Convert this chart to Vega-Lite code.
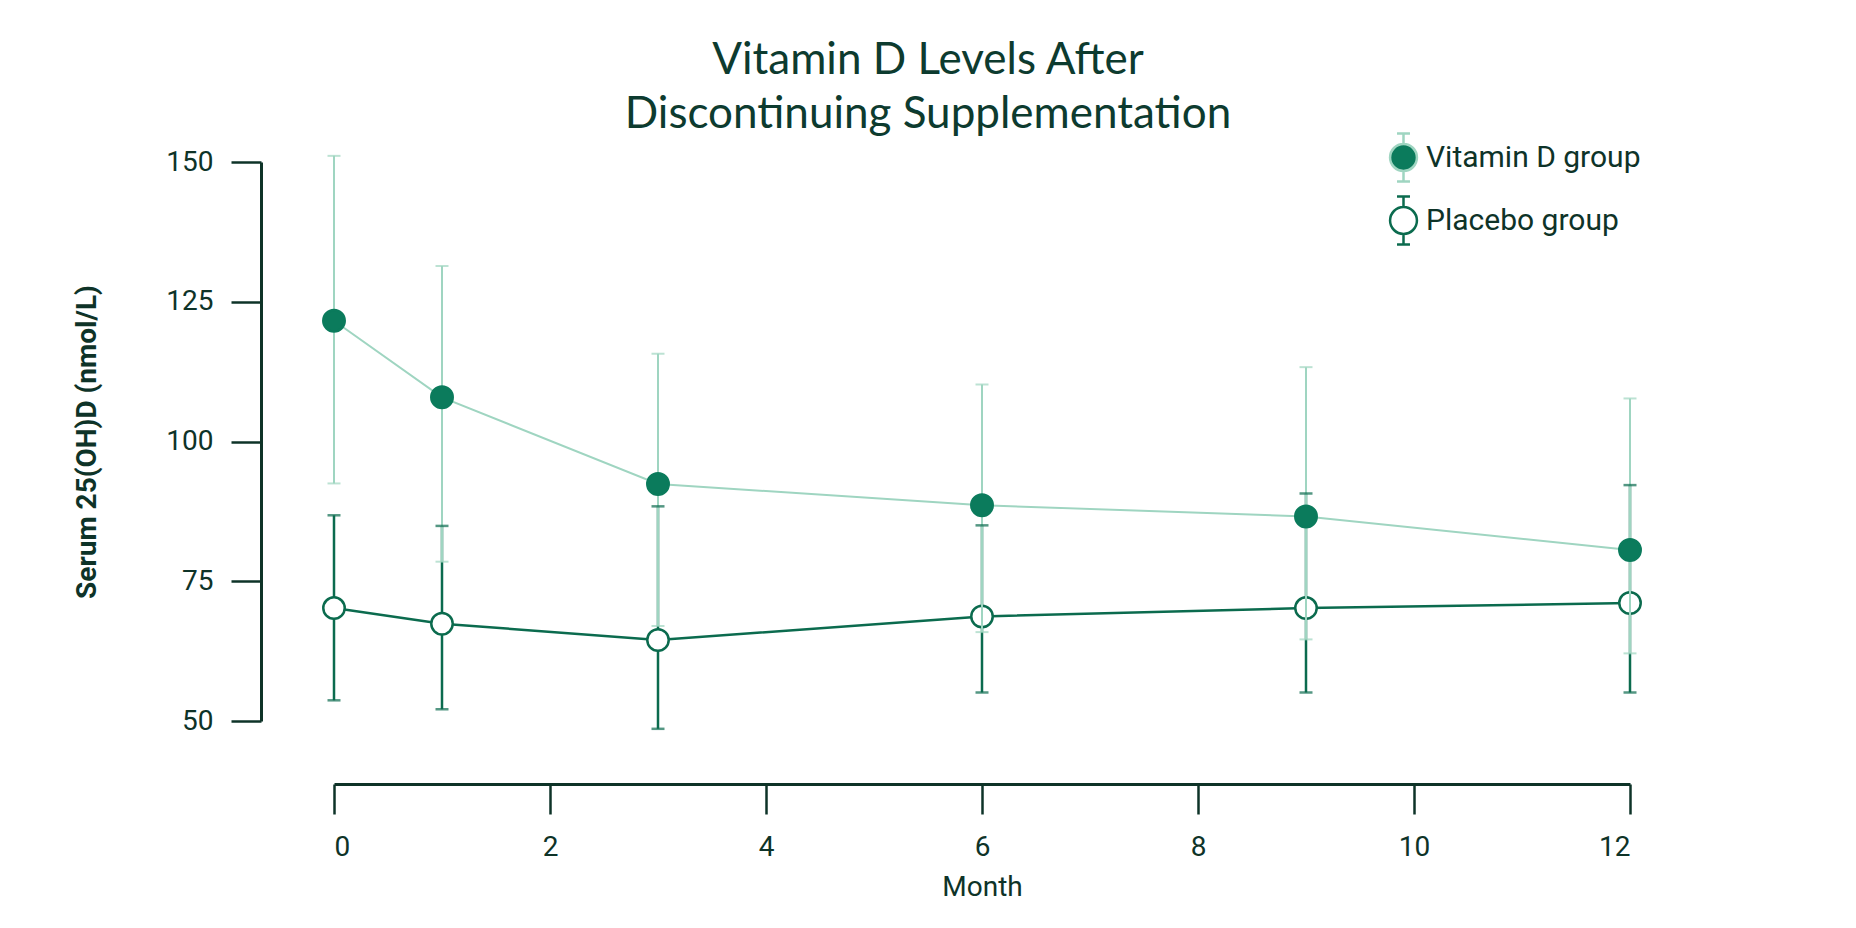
{
  "$schema": "https://vega.github.io/schema/vega-lite/v6.json",
  "autosize": {"type": "none"},
  "padding": {"left": 334, "top": 162, "right": 226, "bottom": 207},
  "width": 1296,
  "height": 559,
  "background": "white",
  "title": {
    "text": ["Vitamin D Levels After", "Discontinuing Supplementation"],
    "font": "Lato",
    "fontSize": 44,
    "fontWeight": 400,
    "color": "#0d3b2f",
    "anchor": "middle",
    "frame": "group",
    "dx": -54,
    "lineHeight": 54,
    "offset": -5
  },
  "config": {
    "view": {"stroke": null},
    "axis": {
      "grid": false,
      "domainColor": "#0e3328",
      "domainWidth": 3,
      "tickColor": "#0e3328",
      "tickWidth": 2.5,
      "tickSize": 30,
      "labelFont": "Roboto",
      "labelFontSize": 28,
      "labelColor": "#0e3328",
      "titleFont": "Roboto",
      "titleFontSize": 28,
      "titleColor": "#0e3328"
    }
  },
  "data": {
    "values": [
      {"month": 0, "group": "Vitamin D group", "mean": 121.6, "lo": 92.5, "hi": 151.1},
      {"month": 1, "group": "Vitamin D group", "mean": 107.9, "lo": 78.5, "hi": 131.4},
      {"month": 3, "group": "Vitamin D group", "mean": 92.4, "lo": 67.0, "hi": 115.7},
      {"month": 6, "group": "Vitamin D group", "mean": 88.6, "lo": 65.9, "hi": 110.2},
      {"month": 9, "group": "Vitamin D group", "mean": 86.6, "lo": 64.6, "hi": 113.3},
      {"month": 12, "group": "Vitamin D group", "mean": 80.6, "lo": 62.1, "hi": 107.7},
      {"month": 0, "group": "Placebo group", "mean": 70.2, "lo": 53.7, "hi": 86.8},
      {"month": 1, "group": "Placebo group", "mean": 67.4, "lo": 52.1, "hi": 84.9},
      {"month": 3, "group": "Placebo group", "mean": 64.5, "lo": 48.6, "hi": 88.4},
      {"month": 6, "group": "Placebo group", "mean": 68.7, "lo": 55.1, "hi": 85.0},
      {"month": 9, "group": "Placebo group", "mean": 70.2, "lo": 55.1, "hi": 90.7},
      {"month": 12, "group": "Placebo group", "mean": 71.1, "lo": 55.1, "hi": 92.2}
    ]
  },
  "encoding": {
    "x": {
      "field": "month", "type": "quantitative",
      "scale": {"domain": [0, 12], "nice": false, "zero": false},
      "axis": {"values": [0, 2, 4, 6, 8, 10, 12], "title": "Month", "titleFontWeight": "normal", "offset": 63, "labelPadding": 19, "titlePadding": 12}
    }
  },
  "layer": [
    {
      "transform": [{"filter": "datum.group === 'Placebo group'"}],
      "mark": {"type": "rule", "strokeWidth": 2.5},
      "encoding": {
        "y": {"field": "lo", "type": "quantitative",
          "scale": {"domain": [50, 150], "nice": false, "zero": false},
          "axis": {"values": [50, 75, 100, 125, 150], "title": "Serum 25(OH)D (nmol/L)", "titleFontWeight": "bold", "offset": 73, "labelPadding": 18, "titlePadding": 64}},
        "y2": {"field": "hi"},
        "stroke": {"field": "group", "type": "nominal",
          "scale": {"domain": ["Vitamin D group", "Placebo group"], "range": ["#9fd5c1", "#0b6b4e"]},
          "legend": {
            "orient": "none", "legendX": 1044, "legendY": -30, "title": null, "padding": 0,
            "symbolSize": 2304,
            "symbolType": "M-0.56,0A0.56,0.56,0,1,1,0.56,0A0.56,0.56,0,1,1,-0.56,0ZM0,-0.56L0,-1M-0.27,-1L0.27,-1M0,0.56L0,1M-0.27,1L0.27,1",
            "symbolStrokeWidth": 2.5,
            "labelFont": "Roboto", "labelFontSize": 30, "labelColor": "#0e3328", "labelLimit": 0,
            "labelOffset": -3, "rowPadding": 4
          }
        }
      }
    },
    {
      "transform": [{"filter": "datum.group === 'Placebo group'"}],
      "mark": {"type": "line", "color": "#0b6b4e", "strokeWidth": 2.5},
      "encoding": {"y": {"field": "mean", "type": "quantitative"}}
    },
    {
      "transform": [{"filter": "datum.group === 'Placebo group'"}],
      "mark": {"type": "point", "shape": "circle", "size": 460, "strokeWidth": 2.5, "stroke": "#0b6b4e", "opacity": 1, "filled": true},
      "encoding": {
        "y": {"field": "mean", "type": "quantitative"},
        "fill": {"field": "group", "type": "nominal",
          "scale": {"domain": ["Vitamin D group", "Placebo group"], "range": ["#0b7b5c", "#ffffff"]},
          "legend": {
            "orient": "none", "legendX": 1044, "legendY": -30, "title": null, "padding": 0,
            "symbolSize": 2304,
            "symbolType": "M-0.56,0A0.56,0.56,0,1,1,0.56,0A0.56,0.56,0,1,1,-0.56,0ZM0,-0.56L0,-1M-0.27,-1L0.27,-1M0,0.56L0,1M-0.27,1L0.27,1",
            "symbolStrokeWidth": 2.5,
            "labelFont": "Roboto", "labelFontSize": 30, "labelColor": "#0e3328", "labelLimit": 0,
            "labelOffset": -3, "rowPadding": 4
          }
        }
      }
    },
    {
      "transform": [{"filter": "datum.group === 'Vitamin D group'"}],
      "mark": {"type": "rule", "strokeWidth": 2},
      "encoding": {
        "y": {"field": "lo", "type": "quantitative"},
        "y2": {"field": "hi"},
        "stroke": {"field": "group", "type": "nominal"}
      }
    },
    {
      "transform": [{"filter": "datum.group === 'Vitamin D group'"}],
      "mark": {"type": "line", "color": "#9fd5c1", "strokeWidth": 2},
      "encoding": {"y": {"field": "mean", "type": "quantitative"}}
    },
    {
      "transform": [{"filter": "datum.group === 'Vitamin D group'"}],
      "mark": {"type": "point", "shape": "circle", "size": 460, "strokeWidth": 2.5, "stroke": "#0b7b5c", "opacity": 1, "filled": true},
      "encoding": {
        "y": {"field": "mean", "type": "quantitative"},
        "fill": {"field": "group", "type": "nominal"}
      }
    },
    {
      "transform": [{"filter": "datum.group === 'Vitamin D group'"}, {"fold": ["lo", "hi"], "as": ["end", "val"]}],
      "mark": {"type": "tick", "orient": "horizontal", "size": 13, "thickness": 2, "color": "#9fd5c1"},
      "encoding": {"y": {"field": "val", "type": "quantitative"}}
    },
    {
      "transform": [{"filter": "datum.group === 'Placebo group'"}, {"fold": ["lo", "hi"], "as": ["end", "val"]}],
      "mark": {"type": "tick", "orient": "horizontal", "size": 13, "thickness": 2.5, "color": "#0b6b4e"},
      "encoding": {"y": {"field": "val", "type": "quantitative"}}
    }
  ]
}
